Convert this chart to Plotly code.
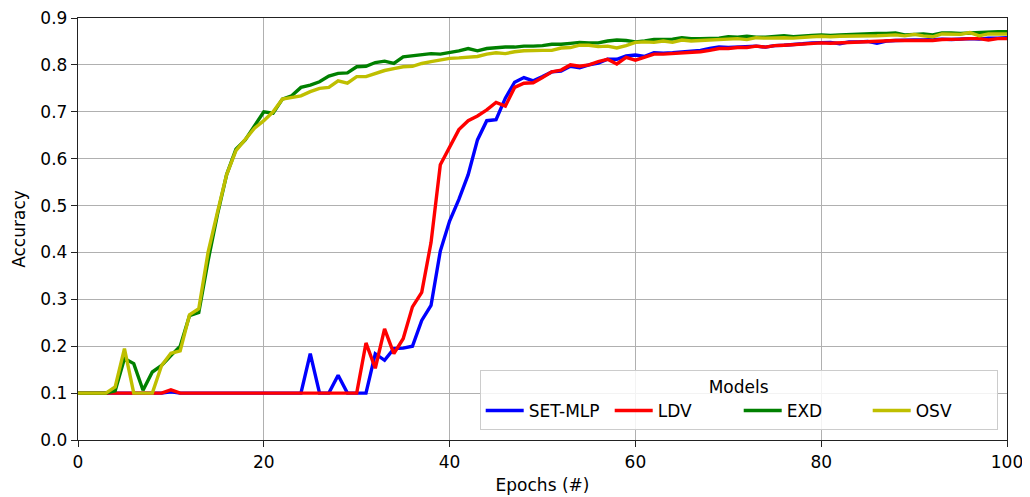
import plotly.graph_objects as go

epochs = list(range(0, 101))

set_mlp = [0.1]*10 + [0.103] + [0.1]*14 + [
    0.184, 0.1, 0.1, 0.138, 0.1, 0.1, 0.1, 0.184, 0.17, 0.195,
    0.196, 0.2, 0.255, 0.287, 0.403, 0.467, 0.513, 0.566, 0.64, 0.681,
    0.683, 0.729, 0.763, 0.773, 0.766, 0.775, 0.785, 0.787, 0.797, 0.794,
    0.8, 0.804, 0.812, 0.812, 0.819, 0.821, 0.818, 0.826, 0.825, 0.826,
    0.828, 0.829, 0.831, 0.835, 0.838, 0.837, 0.838, 0.839, 0.84, 0.838,
    0.841, 0.842, 0.843, 0.845, 0.847, 0.848, 0.848, 0.845, 0.849, 0.849,
    0.85, 0.846, 0.851, 0.852, 0.853, 0.853, 0.853, 0.854, 0.855, 0.854,
    0.855, 0.856, 0.855, 0.857, 0.857, 0.858]

ldv = [0.1]*10 + [0.107] + [0.1]*20 + [
    0.207, 0.153, 0.237, 0.184, 0.216, 0.284, 0.315, 0.421, 0.587, 0.626,
    0.662, 0.681, 0.691, 0.704, 0.72, 0.712, 0.752, 0.761, 0.762, 0.773,
    0.785, 0.789, 0.8, 0.797, 0.8, 0.807, 0.812, 0.802, 0.816, 0.81,
    0.816, 0.823, 0.823, 0.824, 0.826, 0.826, 0.828, 0.831, 0.835, 0.835,
    0.837, 0.837, 0.84, 0.838, 0.841, 0.842, 0.843, 0.845, 0.846, 0.847,
    0.846, 0.847, 0.848, 0.848, 0.849, 0.85, 0.851, 0.852, 0.852, 0.852,
    0.851, 0.852, 0.854, 0.854, 0.855, 0.856, 0.856, 0.853, 0.856, 0.856]

exd = [0.1, 0.1, 0.1, 0.1, 0.105, 0.174, 0.163, 0.106, 0.145, 0.159,
       0.18, 0.2, 0.265, 0.272, 0.382, 0.48, 0.566, 0.62, 0.64, 0.671,
       0.70, 0.697, 0.727, 0.734, 0.752, 0.757, 0.764, 0.776, 0.782, 0.783,
       0.796, 0.797, 0.805, 0.808, 0.803, 0.817, 0.819, 0.821, 0.824, 0.823,
       0.826, 0.83, 0.835, 0.83, 0.835, 0.837, 0.838, 0.838, 0.84, 0.84,
       0.841, 0.844, 0.844, 0.846, 0.848, 0.847, 0.847, 0.851, 0.853, 0.852,
       0.849, 0.851, 0.854, 0.854, 0.855, 0.858, 0.856, 0.856, 0.856, 0.857,
       0.86, 0.859, 0.861, 0.859, 0.859, 0.861, 0.862, 0.86, 0.862, 0.863,
       0.864, 0.863, 0.864, 0.865, 0.866, 0.866, 0.867, 0.867, 0.868, 0.864,
       0.865, 0.866, 0.864, 0.868, 0.868, 0.867, 0.868, 0.869, 0.871, 0.871,
       0.871]

osv = [0.1, 0.1, 0.1, 0.1, 0.113, 0.195, 0.1, 0.1, 0.1, 0.159,
       0.185, 0.19, 0.267, 0.28, 0.40, 0.485, 0.566, 0.617, 0.64, 0.665,
       0.681, 0.70, 0.727, 0.731, 0.734, 0.743, 0.75, 0.752, 0.766, 0.761,
       0.775, 0.775, 0.782, 0.788, 0.792, 0.796, 0.797, 0.803, 0.807, 0.811,
       0.814, 0.815, 0.817, 0.818, 0.823, 0.826, 0.824, 0.828, 0.83, 0.831,
       0.831, 0.831, 0.836, 0.837, 0.842, 0.842, 0.839, 0.84, 0.836, 0.841,
       0.848, 0.849, 0.848, 0.851, 0.848, 0.853, 0.851, 0.852, 0.853, 0.853,
       0.855, 0.856, 0.854, 0.858, 0.857, 0.858, 0.858, 0.857, 0.859, 0.86,
       0.861, 0.86, 0.861, 0.861, 0.862, 0.862, 0.862, 0.863, 0.864, 0.862,
       0.865, 0.862, 0.86, 0.866, 0.866, 0.865, 0.869, 0.862, 0.866, 0.866,
       0.866]

series_names = ["SET-MLP", "LDV", "EXD", "OSV"]
series_values = [set_mlp, ldv, exd, osv]
series_colors = ["#0000ff", "#ff0000", "#008000", "#bfbf00"]

x_ticks = [0, 20, 40, 60, 80, 100]
y_ticks = [0.0, 0.1, 0.2, 0.3, 0.4, 0.5, 0.6, 0.7, 0.8, 0.9]

fig = go.Figure()
for name, vals, col in zip(series_names, series_values, series_colors):
    fig.add_trace(go.Scatter(x=epochs, y=vals, mode="lines", name=name,
                             line=dict(color=col, width=3.4)))

font = "DejaVu Sans"
fs = 17
# the page body adds an 8px offset, so the figure is sized/margined to compensate
fig.update_layout(
    width=1022, height=489,
    margin=dict(l=70, r=23, t=10, b=57),
    paper_bgcolor="white", plot_bgcolor="white",
    font=dict(family=font, size=fs, color="black"),
    showlegend=True,
    legend=dict(
        title=dict(text="Models", side="top center", font=dict(size=fs)),
        orientation="h",
        x=0.99, xanchor="right", y=0.024, yanchor="bottom",
        bgcolor="rgba(255,255,255,0.85)", bordercolor="#cccccc", borderwidth=1,
        font=dict(size=fs),
        entrywidth=76, entrywidthmode="pixels",
        itemwidth=38,
    ),
)
fig.update_xaxes(
    range=[0, 100], tickvals=x_ticks, automargin=False,
    ticklabeloverflow="allow",
    showgrid=True, gridcolor="#b0b0b0", gridwidth=1.4,
    showline=True, linecolor="#222222", linewidth=1.4, mirror=True,
    ticks="outside", ticklen=6, tickwidth=1.4, tickcolor="#222222",
    zeroline=False,
    title=dict(text="Epochs (#)", standoff=8, font=dict(size=fs)),
    tickfont=dict(size=fs),
)
fig.update_yaxes(
    range=[0, 0.9], tickvals=y_ticks, tickformat=".1f", automargin=False,
    ticklabeloverflow="allow",
    showgrid=True, gridcolor="#b0b0b0", gridwidth=1.4,
    showline=True, linecolor="#222222", linewidth=1.4, mirror=True,
    ticks="outside", ticklen=6, tickwidth=1.4, tickcolor="#222222",
    zeroline=False,
    title=dict(text="Accuracy", standoff=10, font=dict(size=fs)),
    tickfont=dict(size=fs),
)

fig.write_html("out.html")
